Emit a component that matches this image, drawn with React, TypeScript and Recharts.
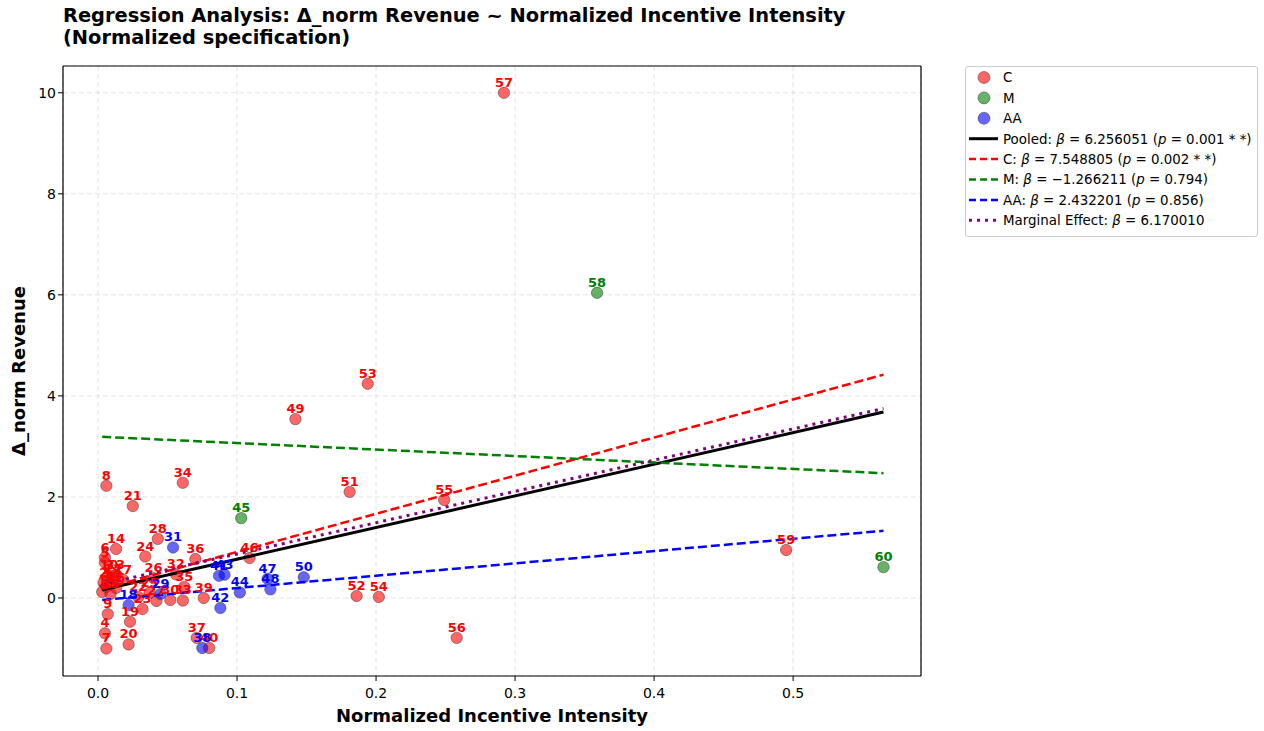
import React from 'react';
import { ComposedChart, Scatter, XAxis, YAxis, CartesianGrid, ReferenceLine } from 'recharts';

// [id, x, y]
const groupC: [number, number, number][] = [
  [1, 0.003, 0.12], [2, 0.004, 0.3], [3, 0.006, 0.22], [4, 0.005, -0.7], [5, 0.005, 0.7],
  [6, 0.005, 0.8], [7, 0.006, -1.0], [8, 0.006, 2.22], [9, 0.007, -0.32], [10, 0.008, 0.45],
  [11, 0.01, 0.28], [12, 0.011, 0.38], [13, 0.013, 0.46], [14, 0.013, 0.97], [15, 0.009, 0.08],
  [16, 0.013, 0.2], [17, 0.018, 0.36], [19, 0.023, -0.47], [20, 0.022, -0.92], [21, 0.025, 1.82],
  [22, 0.029, 0.02], [23, 0.032, -0.22], [24, 0.034, 0.82], [25, 0.037, 0.1], [26, 0.04, 0.39],
  [27, 0.042, -0.06], [28, 0.043, 1.17], [30, 0.052, -0.04], [32, 0.056, 0.47], [33, 0.061, -0.05],
  [34, 0.061, 2.28], [35, 0.062, 0.22], [36, 0.07, 0.77], [37, 0.071, -0.79], [39, 0.076, 0.0],
  [40, 0.08, -0.99], [46, 0.109, 0.79], [49, 0.142, 3.54], [51, 0.181, 2.1], [52, 0.186, 0.04],
  [53, 0.194, 4.24], [54, 0.202, 0.02], [55, 0.249, 1.94], [56, 0.258, -0.79], [57, 0.292, 10.0],
  [59, 0.495, 0.95],
];
const groupM: [number, number, number][] = [
  [45, 0.103, 1.58], [58, 0.359, 6.04], [60, 0.565, 0.61],
];
const groupAA: [number, number, number][] = [
  [18, 0.022, -0.14], [29, 0.045, 0.08], [31, 0.054, 1.0], [38, 0.075, -0.99], [41, 0.087, 0.44],
  [42, 0.088, -0.2], [43, 0.091, 0.46], [44, 0.102, 0.11], [47, 0.122, 0.38], [48, 0.124, 0.17],
  [50, 0.148, 0.41],
];

// fitted line end points
const fitX = [0.003, 0.565];
const pooledY = [0.16, 3.68];
const cFitY = [0.18, 4.42];
const mFitY = [3.19, 2.47];
const aaFitY = [-0.04, 1.33];
const marginalY = [0.27, 3.75];

const xTicks = [0, 0.1, 0.2, 0.3, 0.4, 0.5];
const yTicks = [0, 2, 4, 6, 8, 10];
const xDomain = [-0.0252, 0.592];
const yDomain = [-1.545, 10.53];

const COLORS = { C: '#ff0000', M: '#008000', AA: '#0000ff' };
const FONT = '"DejaVu Sans", sans-serif';

const toPoints = (g: [number, number, number][], group: keyof typeof COLORS) =>
  g.map(([id, x, y]) => ({ id, x, y, group }));

const cPts = toPoints(groupC, 'C');
const mPts = toPoints(groupM, 'M');
const aaPts = toPoints(groupAA, 'AA');
const allPts = [...cPts, ...mPts, ...aaPts];

const fitLine = (ys: number[]) => fitX.map((x, i) => ({ x, y: ys[i] }));

const dot = (color: string) => (props: any) => (
  <circle cx={props.cx} cy={props.cy} r={5.7} fill={color} fillOpacity={0.6} stroke="#333" strokeOpacity={0.6} strokeWidth={0.8} />
);

const label = (props: any) => (
  <text x={props.cx} y={props.cy - 6} textAnchor="middle" fontSize={13} fontWeight="bold" fontFamily={FONT}
    fill={COLORS[props.payload.group as keyof typeof COLORS]}>
    {props.payload.id}
  </text>
);

const none = () => null;

const XTick = (props: any) => (
  <text x={props.x} y={props.y} dy={15} textAnchor="middle" fontSize={14} fontFamily={FONT} fill="#000">
    {props.payload.value.toFixed(1)}
  </text>
);

const YTick = (props: any) => (
  <text x={props.x} y={props.y} dy={5} textAnchor="end" fontSize={14} fontFamily={FONT} fill="#000">
    {props.payload.value}
  </text>
);

const B = () => <tspan fontStyle="italic">β</tspan>;
const P = () => <tspan fontStyle="italic">p</tspan>;

const legendRows: { kind: string; color: string; dash?: string; width?: number; text: React.ReactNode }[] = [
  { kind: 'dot', color: COLORS.C, text: 'C' },
  { kind: 'dot', color: COLORS.M, text: 'M' },
  { kind: 'dot', color: COLORS.AA, text: 'AA' },
  { kind: 'line', color: '#000', width: 3, text: <>Pooled: <B /> = 6.256051 (<P /> = 0.001 * *)</> },
  { kind: 'line', color: COLORS.C, dash: '7 4', width: 2.5, text: <>C: <B /> = 7.548805 (<P /> = 0.002 * *)</> },
  { kind: 'line', color: COLORS.M, dash: '7 4', width: 2.5, text: <>M: <B /> = −1.266211 (<P /> = 0.794)</> },
  { kind: 'line', color: COLORS.AA, dash: '7 4', width: 2.5, text: <>AA: <B /> = 2.432201 (<P /> = 0.856)</> },
  { kind: 'line', color: '#800080', dash: '3 5', width: 3, text: <>Marginal Effect: <B /> = 6.170010</> },
];

function LegendBox() {
  return (
    <div style={{ position: 'absolute', left: 957, top: 58, width: 291, height: 169, border: '1px solid #ccc', borderRadius: 3, background: '#fff' }}>
      <svg width={291} height={169}>
        {legendRows.map((r, i) => {
          const y = 10.5 + i * 20.4;
          return (
            <g key={i}>
              {r.kind === 'dot' ? (
                <circle cx={18} cy={y} r={6} fill={r.color} fillOpacity={0.6} stroke="#333" strokeOpacity={0.6} strokeWidth={0.8} />
              ) : (
                <line x1={3} x2={32} y1={y} y2={y} stroke={r.color} strokeWidth={r.width} strokeDasharray={r.dash} />
              )}
              <text x={37} y={y + 4.8} fontSize={13.4} fontFamily={FONT} fill="#000">{r.text}</text>
            </g>
          );
        })}
      </svg>
    </div>
  );
}

export default function App() {
  return (
    <div style={{ position: 'relative', width: 1264, height: 731, fontFamily: FONT }}>
      <style>{'body { margin: 0; }'}</style>
      <div style={{ position: 'absolute', left: 8, top: 8, width: 1248, height: 723 }}>
        <div style={{ position: 'absolute', left: 55, top: -3, fontSize: 19.4, fontWeight: 'bold', lineHeight: '22px', whiteSpace: 'nowrap' }}>
          Regression Analysis: Δ_norm Revenue ~ Normalized Incentive Intensity
          <br />
          (Normalized specification)
        </div>
        <ComposedChart width={1248} height={715} margin={{ top: 58, right: 335, bottom: 17, left: 15 }}>
          <CartesianGrid stroke="#b0b0b0" strokeOpacity={0.35} strokeDasharray="5 3" />
          <XAxis type="number" dataKey="x" domain={xDomain} ticks={xTicks} allowDataOverflow
            tick={<XTick />} tickSize={5}
            axisLine={{ stroke: '#000', strokeWidth: 1.2 }} tickLine={{ stroke: '#000' }} height={30} />
          <YAxis type="number" dataKey="y" domain={yDomain} ticks={yTicks} allowDataOverflow
            tick={<YTick />} tickSize={5} axisLine={{ stroke: '#000', strokeWidth: 1.2 }} tickLine={{ stroke: '#000' }} width={40} />
          <ReferenceLine x={xDomain[1]} stroke="#000" strokeWidth={1.2} />
          <ReferenceLine y={yDomain[1]} stroke="#000" strokeWidth={1.2} />
          <Scatter name="C" data={cPts} shape={dot(COLORS.C)} isAnimationActive={false} />
          <Scatter name="M" data={mPts} shape={dot(COLORS.M)} isAnimationActive={false} />
          <Scatter name="AA" data={aaPts} shape={dot(COLORS.AA)} isAnimationActive={false} />
          <Scatter name="Pooled" data={fitLine(pooledY)} shape={none} line={{ stroke: '#000', strokeWidth: 3 }} isAnimationActive={false} />
          <Scatter name="C fit" data={fitLine(cFitY)} shape={none} line={{ stroke: COLORS.C, strokeWidth: 2.5, strokeDasharray: '9 4' }} isAnimationActive={false} />
          <Scatter name="M fit" data={fitLine(mFitY)} shape={none} line={{ stroke: COLORS.M, strokeWidth: 2.5, strokeDasharray: '9 4' }} isAnimationActive={false} />
          <Scatter name="AA fit" data={fitLine(aaFitY)} shape={none} line={{ stroke: COLORS.AA, strokeWidth: 2.5, strokeDasharray: '9 4' }} isAnimationActive={false} />
          <Scatter name="Marginal" data={fitLine(marginalY)} shape={none} line={{ stroke: '#800080', strokeWidth: 3, strokeDasharray: '3 5' }} isAnimationActive={false} />
          <Scatter name="labels" data={allPts} shape={label} isAnimationActive={false} />
        </ComposedChart>
        <div style={{ position: 'absolute', left: 55, width: 858, top: 697, lineHeight: '22px', textAlign: 'center', fontSize: 18, fontWeight: 'bold', whiteSpace: 'nowrap' }}>
          Normalized Incentive Intensity
        </div>
        <div style={{ position: 'absolute', left: 10, top: 363, width: 0, height: 0 }}>
          <div style={{ position: 'absolute', transform: 'translate(-50%, -50%) rotate(-90deg)', fontSize: 18, fontWeight: 'bold', whiteSpace: 'nowrap' }}>
            Δ_norm Revenue
          </div>
        </div>
        <LegendBox />
      </div>
    </div>
  );
}
